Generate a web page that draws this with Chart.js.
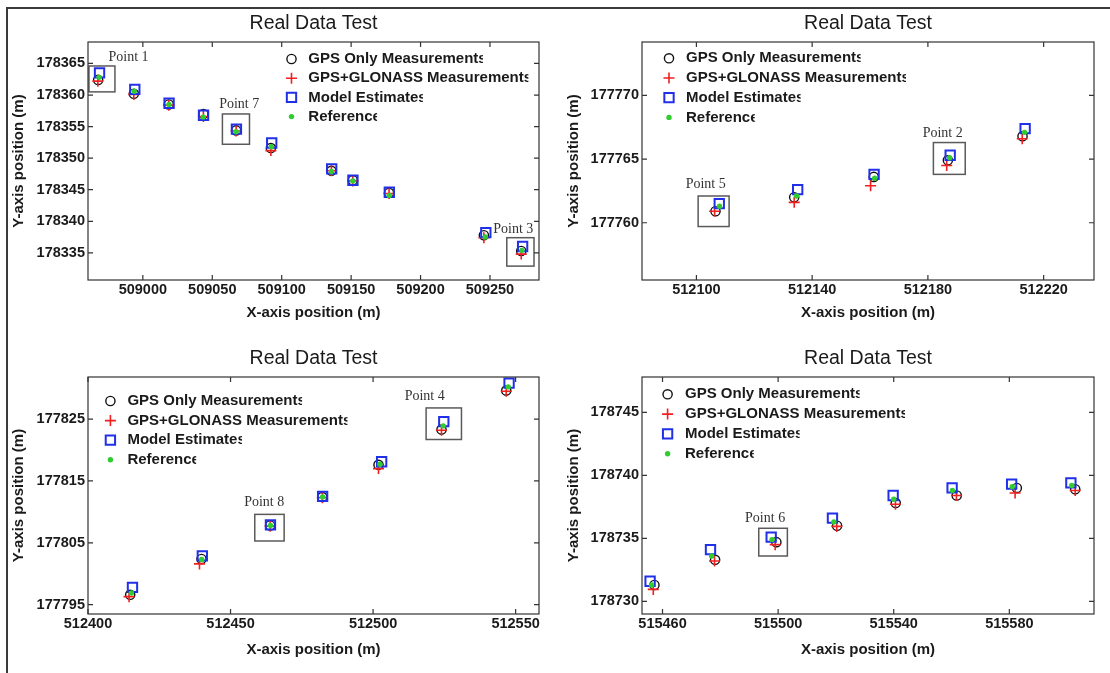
<!DOCTYPE html>
<html><head><meta charset="utf-8">
<script src="https://cdn.jsdelivr.net/npm/chart.js@4.4.0/dist/chart.umd.min.js"></script>
<style>
html,body{margin:0;padding:0;background:#fff;}
#wrap{position:relative;width:1110px;height:673px;overflow:hidden;background:#fff;}
canvas{position:absolute;}
#frame{position:absolute;left:6px;top:7px;width:1120px;height:700px;border-left:2px solid #3a3a3a;border-top:2px solid #3a3a3a;pointer-events:none;}
</style></head><body>
<div id="wrap">
<canvas id="c1" width="555" height="336" style="left:0;top:0"></canvas>
<canvas id="c2" width="555" height="336" style="left:555px;top:0"></canvas>
<canvas id="c3" width="555" height="337" style="left:0;top:336px"></canvas>
<canvas id="c4" width="555" height="337" style="left:555px;top:336px"></canvas>
<div id="frame"></div>
</div>
<script>
// ---------------- DATA ----------------
const seriesNames = ['GPS Only Measurements', 'GPS+GLONASS Measurements', 'Model Estimates', 'Reference'];
const chartTitle = 'Real Data Test';
const xAxisTitle = 'X-axis position (m)';
const yAxisTitle = 'Y-axis position (m)';

// Panel 1 (top-left)
const p1Gps = [[508967.8,178362.4],[508993.5,178360.2],[509018.7,178358.5],[509043.6,178357.0],[509067.2,178354.4],[509092.2,178351.6],[509135.8,178348.0],[509151.2,178346.5],[509177.3,178344.5],[509245.6,178337.8],[509272.5,178335.3]];
const p1Glo = [[508967.6,178362.2],[508993.5,178360.1],[509018.7,178358.4],[509043.6,178356.6],[509067.2,178354.3],[509092.2,178351.2],[509135.8,178348.0],[509151.2,178346.4],[509177.3,178344.4],[509245.6,178337.4],[509272.5,178334.8]];
const p1Mod = [[508968.8,178363.5],[508994.2,178360.9],[509018.9,178358.7],[509043.7,178356.8],[509067.4,178354.6],[509092.8,178352.4],[509136.0,178348.3],[509151.3,178346.5],[509177.5,178344.6],[509247.0,178338.2],[509273.5,178336.0]];
const p1Ref = [[508968.5,178362.8],[508993.8,178360.6],[509018.8,178358.5],[509043.5,178356.5],[509067.2,178354.2],[509092.5,178351.8],[509135.8,178347.9],[509151.2,178346.4],[509177.4,178344.1],[509246.6,178337.5],[509273.0,178335.4]];
const p1XTicks = [509000,509050,509100,509150,509200,509250];
const p1YTicks = [178335,178340,178345,178350,178355,178360,178365];
const p1XRange = [508960.5, 509285.3];
const p1YRange = [178330.7, 178368.4];
const p1Boxes = [[508961.2,178364.6,508979.9,178360.5],[509057.3,178357.0,509076.8,178352.2],[509262.1,178337.4,509281.7,178332.9]];
const p1Labels = [['Point 1',508989.7,178366.0],['Point 7',509069.4,178358.6],['Point 3',509266.8,178338.8]];

// Panel 2 (top-right)
const p2Gps = [[512106.6,177760.9],[512133.8,177762.0],[512161.3,177763.6],[512186.9,177764.9],[512212.7,177766.8]];
const p2Glo = [[512106.3,177760.9],[512133.8,177761.6],[512160.2,177762.9],[512186.5,177764.5],[512212.6,177766.6]];
const p2Mod = [[512107.9,177761.5],[512135.0,177762.6],[512161.4,177763.8],[512187.7,177765.3],[512213.6,177767.4]];
const p2Ref = [[512108.0,177761.3],[512134.6,177762.1],[512161.6,177763.5],[512187.5,177765.1],[512213.4,177767.1]];
const p2XTicks = [512100,512140,512180,512220];
const p2YTicks = [177760,177765,177770];
const p2XRange = [512081.2, 512237.4];
const p2YRange = [177755.5, 177774.2];
const p2Boxes = [[512100.6,177762.1,512111.3,177759.7],[512181.9,177766.3,512192.9,177763.8]];
const p2Labels = [['Point 5',512103.2,177763.0],['Point 2',512185.1,177767.0]];

// Panel 3 (bottom-left)
const p3Gps = [[512414.8,177796.6],[512439.8,177802.4],[512463.9,177807.8],[512482.2,177812.4],[512501.9,177817.6],[512524.0,177823.3],[512546.7,177829.6]];
const p3Glo = [[512414.4,177796.3],[512439.1,177801.6],[512463.9,177807.7],[512482.2,177812.3],[512501.9,177817.0],[512524.0,177823.2],[512546.7,177829.5]];
const p3Mod = [[512415.6,177797.8],[512440.1,177802.9],[512464.0,177807.9],[512482.3,177812.5],[512503.0,177818.1],[512524.8,177824.6],[512547.7,177830.8]];
const p3Ref = [[512415.2,177796.9],[512439.9,177802.3],[512464.0,177807.8],[512482.3,177812.4],[512502.4,177817.7],[512524.6,177823.9],[512547.4,177830.2]];
const p3XTicks = [512400,512450,512500,512550];
const p3YTicks = [177795,177805,177815,177825];
const p3XRange = [512400.0, 512558.2];
const p3YRange = [177793.5, 177831.8];
const p3Boxes = [[512458.5,177809.6,512468.8,177805.3],[512518.6,177826.8,512531.0,177821.7]];
const p3Labels = [['Point 8',512461.8,177811.5],['Point 4',512518.1,177828.7]];

// Panel 4 (bottom-right)
const p4Gps = [[515457.2,178731.3],[515478.2,178733.3],[515499.4,178734.7],[515520.4,178736.0],[515540.7,178737.8],[515561.8,178738.4],[515582.6,178739.0],[515602.8,178738.9]];
const p4Glo = [[515456.8,178730.95],[515478.0,178733.2],[515499.0,178734.5],[515520.3,178735.95],[515540.6,178737.7],[515561.7,178738.4],[515582.0,178738.6],[515602.8,178738.8]];
const p4Mod = [[515455.7,178731.6],[515476.6,178734.1],[515497.6,178735.1],[515518.8,178736.6],[515539.8,178738.4],[515560.2,178739.0],[515580.8,178739.3],[515601.3,178739.4]];
const p4Ref = [[515456.2,178731.3],[515477.0,178733.6],[515497.9,178734.9],[515519.3,178736.3],[515540.0,178738.1],[515560.3,178738.8],[515581.0,178739.1],[515601.6,178739.2]];
const p4XTicks = [515460,515500,515540,515580];
const p4YTicks = [178730,178735,178740,178745];
const p4XRange = [515452.9, 515609.3];
const p4YRange = [178729.0, 178747.8];
const p4Boxes = [[515493.3,178735.8,515503.2,178733.6]];
const p4Labels = [['Point 6',515495.5,178736.6]];

// ---------------- STYLE / LAYOUT ----------------
const FONT = '"Liberation Sans", Arial, sans-serif';
const SERIF = '"Liberation Serif", "Times New Roman", serif';
const markerStyles = [
  {pointStyle:'circle', radius:4.6, borderColor:'#111', backgroundColor:'rgba(0,0,0,0)', borderWidth:1.4, order:4},
  {pointStyle:'cross', radius:5.5, borderColor:'#f02020', backgroundColor:'#f02020', borderWidth:1.6, order:3},
  {pointStyle:'rect', radius:6.6, borderColor:'#2030e8', backgroundColor:'rgba(0,0,0,0)', borderWidth:2, order:2},
  {pointStyle:'circle', radius:2.7, borderColor:'#30cc30', backgroundColor:'#30cc30', borderWidth:0, order:1}
];
const panels = [
  {id:'c1', W:555, H:336, box:{l:88, t:42, r:539, b:280}, series:[p1Gps,p1Glo,p1Mod,p1Ref], xTicks:p1XTicks, yTicks:p1YTicks, xr:p1XRange, yr:p1YRange, boxes:p1Boxes, labels:p1Labels, legend:{mx:291.5, tx:308.3, y0:59, gap:19.2}},
  {id:'c2', W:555, H:336, box:{l:87, t:42, r:539, b:280}, series:[p2Gps,p2Glo,p2Mod,p2Ref], xTicks:p2XTicks, yTicks:p2YTicks, xr:p2XRange, yr:p2YRange, boxes:p2Boxes, labels:p2Labels, legend:{mx:114, tx:131, y0:58.3, gap:19.7}},
  {id:'c3', W:555, H:337, box:{l:88, t:41, r:539, b:278}, series:[p3Gps,p3Glo,p3Mod,p3Ref], xTicks:p3XTicks, yTicks:p3YTicks, xr:p3XRange, yr:p3YRange, boxes:p3Boxes, labels:p3Labels, legend:{mx:110.4, tx:127.4, y0:65, gap:19.6}},
  {id:'c4', W:555, H:337, box:{l:87, t:41, r:539, b:278}, series:[p4Gps,p4Glo,p4Mod,p4Ref], xTicks:p4XTicks, yTicks:p4YTicks, xr:p4XRange, yr:p4YRange, boxes:p4Boxes, labels:p4Labels, legend:{mx:112.6, tx:130, y0:58.3, gap:19.8}}
];

function drawMarker(ctx, i, x, y){
  const s = markerStyles[i];
  ctx.save();
  ctx.lineWidth = s.borderWidth; ctx.strokeStyle = s.borderColor; ctx.fillStyle = s.backgroundColor;
  ctx.beginPath();
  if (s.pointStyle === 'circle') { ctx.arc(x, y, s.radius, 0, Math.PI*2); if (i===3) ctx.fill(); else ctx.stroke(); }
  else if (s.pointStyle === 'cross') { ctx.moveTo(x - s.radius, y); ctx.lineTo(x + s.radius, y); ctx.moveTo(x, y - s.radius); ctx.lineTo(x, y + s.radius); ctx.stroke(); }
  else { const h = s.radius*Math.SQRT1_2; ctx.rect(x-h, y-h, 2*h, 2*h); ctx.stroke(); }
  ctx.restore();
}

function makePlugin(p){
  return {
    id:'deco',
    beforeDatasetsDraw(chart){
      const ctx = chart.ctx, xs = chart.scales.x, ys = chart.scales.y;
      ctx.save();
      ctx.strokeStyle = '#5a5a5a'; ctx.lineWidth = 1.5;
      p.boxes.forEach(b => {
        const x1 = xs.getPixelForValue(b[0]), y1 = ys.getPixelForValue(b[1]);
        const x2 = xs.getPixelForValue(b[2]), y2 = ys.getPixelForValue(b[3]);
        ctx.strokeRect(x1, y1, x2 - x1, y2 - y1);
      });
      ctx.font = '14px ' + SERIF; ctx.fillStyle = '#333'; ctx.textAlign = 'center'; ctx.textBaseline = 'middle';
      p.labels.forEach(l => ctx.fillText(l[0], xs.getPixelForValue(l[1]), ys.getPixelForValue(l[2])));
      ctx.restore();
    },
    afterDraw(chart){
      const ctx = chart.ctx, a = chart.chartArea, xs = chart.scales.x, ys = chart.scales.y;
      ctx.save();
      // axes frame
      ctx.strokeStyle = '#333'; ctx.lineWidth = 1.2;
      ctx.strokeRect(a.left, a.top, a.right - a.left, a.bottom - a.top);
      // inward ticks
      ctx.beginPath();
      xs.ticks.forEach(t => { const px = xs.getPixelForValue(t.value);
        ctx.moveTo(px, a.bottom); ctx.lineTo(px, a.bottom - 5);
        ctx.moveTo(px, a.top); ctx.lineTo(px, a.top + 5); });
      ys.ticks.forEach(t => { const py = ys.getPixelForValue(t.value);
        ctx.moveTo(a.left, py); ctx.lineTo(a.left + 5, py);
        ctx.moveTo(a.right, py); ctx.lineTo(a.right - 5, py); });
      ctx.stroke();
      // title
      ctx.fillStyle = '#1a1a1a'; ctx.textAlign = 'center'; ctx.textBaseline = 'middle';
      ctx.font = '19.5px ' + FONT;
      ctx.fillText(chartTitle, (a.left + a.right)/2, a.top - 18.5);
      // legend
      const L = p.legend;
      ctx.font = 'bold 15px ' + FONT; ctx.textAlign = 'left';
      seriesNames.forEach((name, i) => {
        const y = L.y0 + i*L.gap;
        drawMarker(ctx, i, L.mx, y);
        const w = ctx.measureText(name).width, lw = ctx.measureText(name.slice(-1)).width;
        ctx.save();
        ctx.beginPath(); ctx.rect(L.tx - 2, y - 12, w - lw*0.45 + 2, 24); ctx.clip();
        ctx.fillStyle = '#1a1a1a';
        ctx.fillText(name, L.tx, y);
        ctx.restore();
      });
      ctx.restore();
    }
  };
}

panels.forEach(p => {
  const datasets = p.series.map((arr, i) => ({
    label: seriesNames[i],
    data: arr.map(v => ({x: v[0], y: v[1]})),
    showLine: false,
    pointStyle: markerStyles[i].pointStyle,
    pointRadius: markerStyles[i].radius,
    pointHoverRadius: markerStyles[i].radius,
    borderColor: markerStyles[i].borderColor,
    backgroundColor: markerStyles[i].backgroundColor,
    pointBorderWidth: markerStyles[i].borderWidth,
    borderWidth: markerStyles[i].borderWidth,
    order: markerStyles[i].order
  }));
  new Chart(document.getElementById(p.id), {
    type: 'scatter',
    data: {datasets},
    options: {
      responsive: false, animation: false, events: [],
      layout: {padding: {left: 0, top: p.box.t, right: p.W - p.box.r, bottom: 0}},
      plugins: {legend: {display: false}, tooltip: {enabled: false}, title: {display: false}},
      scales: {
        x: {
          type: 'linear', min: p.xr[0], max: p.xr[1],
          grid: {display: false, drawTicks: false},
          border: {display: false},
          afterBuildTicks: s => { s.ticks = p.xTicks.map(v => ({value: v})); },
          afterFit: s => { s.height = p.H - p.box.b; },
          ticks: {padding: 1, color: '#1a1a1a', font: {family: FONT, size: 14.5, weight: 'bold'}, callback: v => String(v), maxRotation: 0, autoSkip: false},
          title: {display: true, text: xAxisTitle, color: '#1a1a1a', font: {family: FONT, size: 15, weight: 'bold'}, padding: {top: 0, bottom: 14}}
        },
        y: {
          type: 'linear', min: p.yr[0], max: p.yr[1],
          grid: {display: false, drawTicks: false},
          border: {display: false},
          afterBuildTicks: s => { s.ticks = p.yTicks.map(v => ({value: v})); },
          afterFit: s => { s.width = p.box.l; },
          ticks: {padding: 3, color: '#1a1a1a', font: {family: FONT, size: 14.5, weight: 'bold'}, callback: v => String(v), autoSkip: false},
          title: {display: true, text: yAxisTitle, color: '#1a1a1a', font: {family: FONT, size: 15, weight: 'bold'}, padding: {top: 10, bottom: 0}}
        }
      }
    },
    plugins: [makePlugin(p)]
  });
});
</script>
</body></html>
